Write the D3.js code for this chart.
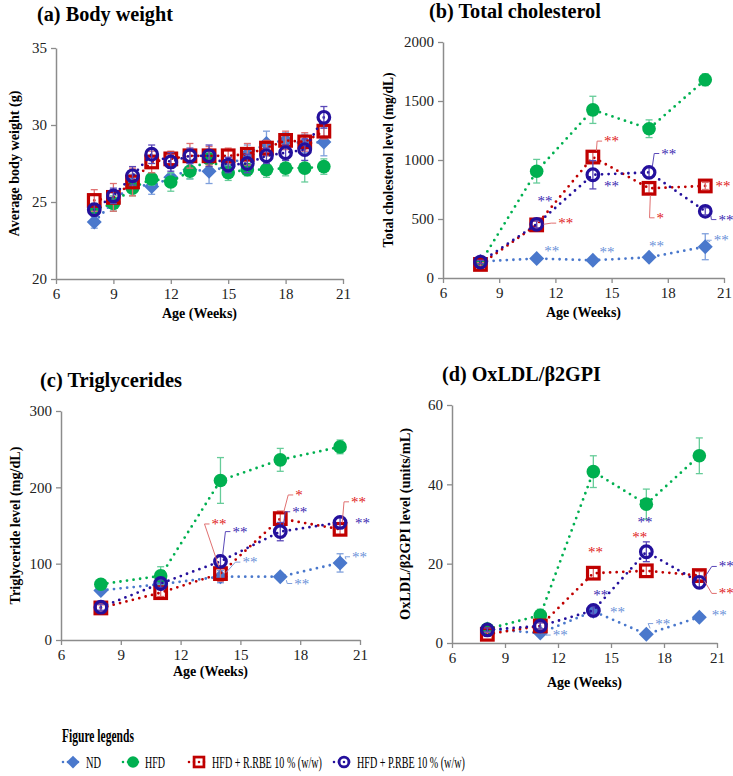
<!DOCTYPE html>
<html><head><meta charset="utf-8">
<script src="https://cdn.jsdelivr.net/npm/d3@7"></script>
<style>
html,body{margin:0;padding:0;background:#fff;}
svg, svg text{font-family:'Liberation Serif','Times New Roman',Times,serif !important;}
</style></head>
<body>
<svg id="chart" width="733" height="776"></svg>
<script>
// ---------- DATA ----------
const seriesNames = ["ND", "HFD", "HFD + R.RBE 10 % (w/w)", "HFD + P.RBE 10 % (w/w)"];
const seriesColors = ["#4A78CC", "#00B050", "#C00000", "#24109C"];
const errColors = ["#7FA0DC", "#66CC99", "#E07070", "#5A48B8"];
const starColors = ["#6A90D8", "#00B050", "#E02020", "#3A28B0"];

const xTicks = [6, 9, 12, 15, 18, 21];

// (a) Body weight
const weeksBW = [8, 9, 10, 11, 12, 13, 14, 15, 16, 17, 18, 19, 20];
const bwND   = [23.7, 25.0, 26.2, 26.0, 26.6, 27.1, 27.0, 27.3, 28.1, 28.8, 29.0, 28.8, 28.9];
const bwHFD  = [24.5, 24.9, 25.9, 26.5, 26.3, 27.0, 27.8, 26.9, 27.1, 27.1, 27.2, 27.2, 27.3];
const bwR    = [25.1, 25.3, 26.3, 27.6, 27.8, 28.0, 28.0, 28.0, 28.1, 28.5, 29.0, 28.9, 29.6];
const bwP    = [24.5, 25.4, 26.7, 28.1, 27.6, 28.0, 28.0, 27.4, 27.5, 28.0, 28.2, 28.4, 30.5];
const bwNDe  = [0.4, 0.6, 0.6, 0.5, 0.6, 0.6, 0.8, 0.6, 0.6, 0.8, 0.5, 0.6, 0.9];
const bwHFDe = [0.4, 0.5, 0.5, 0.4, 0.6, 0.5, 0.5, 0.5, 0.4, 0.5, 0.5, 0.9, 0.5];
const bwRe   = [0.7, 0.9, 0.9, 0.7, 0.5, 0.8, 0.6, 0.5, 0.7, 0.5, 0.6, 0.6, 0.5];
const bwPe   = [0.4, 0.5, 0.6, 0.6, 0.6, 0.5, 0.7, 0.5, 0.6, 0.5, 0.5, 0.7, 0.7];
const bwTicks = [20, 25, 30, 35];

// (b)(c)(d) sampled weeks
const weeksLab = [8, 11, 14, 17, 20];

// (b) Total cholesterol
const tcND   = [140, 165, 150, 175, 265];
const tcHFD  = [130, 905, 1425, 1265, 1680];
const tcR    = [115, 450, 1025, 760, 780];
const tcP    = [135, 455, 875, 895, 565];
const tcNDe  = [15, 20, 20, 20, 110];
const tcHFDe = [15, 100, 115, 75, 50];
const tcRe   = [15, 30, 40, 40, 30];
const tcPe   = [15, 30, 120, 40, 30];
const tcTicks = [0, 500, 1000, 1500, 2000];

// (c) Triglycerides
const tgND   = [65, 73, 83, 83, 101];
const tgHFD  = [73, 84, 209, 236, 253];
const tgR    = [42, 62, 87, 159, 145];
const tgP    = [43, 74, 103, 142, 154];
const tgNDe  = [4, 5, 8, 4, 12];
const tgHFDe = [4, 12, 30, 15, 9];
const tgRe   = [4, 5, 10, 10, 8];
const tgPe   = [4, 5, 8, 12, 6];
const tgTicks = [0, 100, 200, 300];

// (d) OxLDL/β2GPI
const oxND   = [3.5, 2.5, 8.0, 2.2, 6.5];
const oxHFD  = [3.5, 7.0, 43.2, 35.0, 47.2];
const oxR    = [2.2, 4.3, 17.6, 18.2, 17.0];
const oxP    = [3.3, 4.3, 8.2, 23.0, 15.3];
const oxNDe  = [0.8, 0.8, 0.8, 0.6, 0.8];
const oxHFDe = [0.8, 1.5, 4.0, 3.8, 4.5];
const oxRe   = [0.5, 0.8, 1.5, 1.5, 1.0];
const oxPe   = [0.5, 0.8, 1.0, 2.5, 1.5];
const oxTicks = [0, 20, 40, 60];

// significance labels: [series, week, label x (weeks), label y (value), text, leader]
const annTC = [
  [0, 11, 11.4, 225, "**", false], [0, 14, 14.35, 220, "**", false],
  [0, 17, 17.0, 275, "**", false], [0, 20, 20.45, 320, "**", true],
  [2, 11, 12.15, 465, "**", true], [2, 14, 14.6, 1160, "**", true],
  [2, 17, 17.4, 510, "*", true],  [2, 20, 20.55, 780, "**", false],
  [3, 11, 11.05, 655, "**", false], [3, 14, 14.6, 780, "**", false],
  [3, 17, 17.65, 1055, "**", true], [3, 20, 20.7, 495, "**", true]
];
const annTG = [
  [0, 14, 15.1, 102, "**", true], [0, 17, 17.7, 74, "**", true], [0, 20, 20.6, 109, "**", true],
  [2, 14, 13.55, 152, "**", true], [2, 17, 17.75, 190, "*", true], [2, 20, 20.55, 181, "**", true],
  [3, 14, 14.6, 142, "**", true], [3, 17, 17.6, 168, "**", true], [3, 20, 20.75, 153, "**", false]
];
const annOX = [
  [0, 11, 11.7, 2.0, "**", true], [0, 14, 14.95, 7.7, "**", false],
  [0, 17, 17.5, 4.9, "**", true], [0, 20, 20.7, 7.1, "**", false],
  [2, 14, 13.7, 22.9, "**", false], [2, 17, 16.2, 26.6, "**", false], [2, 20, 21.1, 12.5, "**", true],
  [3, 14, 14.0, 12.0, "**", false], [3, 17, 16.5, 30.5, "**", false], [3, 20, 21.1, 19.3, "**", true]
];

// ---------- LAYOUT ----------
const FONT = "'Liberation Serif','Times New Roman',Times,serif";
const panels = [
  {title: "(a) Body weight", tx: 37, ty: 21, tl: 136, ylab: "Average body weight (g)", ylx: 14, yll: 146,
   xr: [56, 343], yr: [279, 48], yd: [20, 35], yt: bwTicks, xlabY: 318,
   weeks: weeksBW, vals: [bwND, bwHFD, bwR, bwP], errs: [bwNDe, bwHFDe, bwRe, bwPe], ann: []},
  {title: "(b) Total cholesterol", tx: 429, ty: 18, tl: 172, ylab: "Total cholesterol level (mg/dL)", ylx: 388, yll: 175,
   xr: [443, 724], yr: [278, 42], yd: [0, 2000], yt: tcTicks, xlabY: 317,
   weeks: weeksLab, vals: [tcND, tcHFD, tcR, tcP], errs: [tcNDe, tcHFDe, tcRe, tcPe], ann: annTC},
  {title: "(c) Triglycerides", tx: 40, ty: 387, tl: 142, ylab: "Triglyceride level (mg/dL)", ylx: 15, yll: 158,
   xr: [61, 360], yr: [640, 411], yd: [0, 300], yt: tgTicks, xlabY: 676,
   weeks: weeksLab, vals: [tgND, tgHFD, tgR, tgP], errs: [tgNDe, tgHFDe, tgRe, tgPe], ann: annTG},
  {title: "(d) OxLDL/β2GPI", tx: 442, ty: 381, tl: 159, ylab: "OxLDL/β2GPI level (units/mL)", ylx: 405, yll: 192,
   xr: [452, 717], yr: [643, 405], yd: [0, 60], yt: oxTicks, xlabY: 687,
   weeks: weeksLab, vals: [oxND, oxHFD, oxR, oxP], errs: [oxNDe, oxHFDe, oxRe, oxPe], ann: annOX}
];

const svg = d3.select("#chart").attr("font-family", FONT);
const axisCol = "#8C8C8C";

// text squeezed horizontally to a given width (via transform, so its box is real)
function fitText(g, str, x, y, w, size, bold, fill) {
  const t = g.append("text").attr("x", 0).attr("y", 0).attr("font-size", size)
    .attr("font-family", FONT).attr("font-weight", bold ? "bold" : "normal")
    .attr("fill", fill || "#000").text(str);
  const nat = t.node().getComputedTextLength() || w;
  t.attr("transform", `translate(${x},${y}) scale(${w / nat},1)`);
  return t;
}

function drawMarker(g, s, x, y, scale) {
  const k = scale || 1;
  const c = seriesColors[s];
  if (s === 0) {
    const r = 7.5 * k;
    g.append("path").attr("d", `M${x},${y - r}L${x + r},${y}L${x},${y + r}L${x - r},${y}Z`).attr("fill", c);
  } else if (s === 1) {
    g.append("circle").attr("cx", x).attr("cy", y).attr("r", 6.8 * k).attr("fill", c);
  } else if (s === 2) {
    const h = 5.8 * k;
    g.append("rect").attr("x", x - h).attr("y", y - h).attr("width", 2 * h).attr("height", 2 * h)
      .attr("fill", "none").attr("stroke", c).attr("stroke-width", 3.2 * k);
  } else {
    g.append("circle").attr("cx", x).attr("cy", y).attr("r", 5.8 * k)
      .attr("fill", "none").attr("stroke", c).attr("stroke-width", 3.2 * k);
  }
}

panels.forEach(p => {
  const x = d3.scaleLinear().domain([6, 21]).range(p.xr);
  const y = d3.scaleLinear().domain(p.yd).range(p.yr);
  const g = svg.append("g");

  fitText(g, p.title, p.tx, p.ty, p.tl, 20, true, "#000");

  const xa = g.append("g").attr("transform", `translate(0,${p.yr[0]})`)
    .call(d3.axisBottom(x).tickValues(xTicks).tickFormat(d3.format("d")).tickSize(5).tickSizeOuter(0).tickPadding(4));
  const ya = g.append("g").attr("transform", `translate(${p.xr[0]},0)`)
    .call(d3.axisLeft(y).tickValues(p.yt).tickFormat(d3.format("d")).tickSize(5).tickSizeOuter(0).tickPadding(4));
  [xa, ya].forEach(a => {
    a.attr("font-family", FONT);
    a.select(".domain").attr("stroke", axisCol).attr("stroke-width", 1.5);
    a.selectAll(".tick line").attr("stroke", axisCol).attr("stroke-width", 1.3);
    a.selectAll(".tick text").attr("font-size", 15).attr("fill", "#222").attr("font-family", FONT);
  });

  g.append("text").attr("x", (p.xr[0] + p.xr[1]) / 2).attr("y", p.xlabY).attr("text-anchor", "middle")
    .attr("font-family", FONT).attr("font-size", 14).attr("font-weight", "bold").text("Age (Weeks)");
  const yc = (p.yr[0] + p.yr[1]) / 2;
  g.append("text").attr("transform", `translate(${p.ylx},${yc}) rotate(-90)`)
    .attr("text-anchor", "middle").attr("dominant-baseline", "central")
    .attr("font-family", FONT).attr("font-size", 14).attr("font-weight", "bold")
    .attr("textLength", p.yll).attr("lengthAdjust", "spacingAndGlyphs").text(p.ylab);

  const line = d3.line().x(d => x(d[0])).y(d => y(d[1]));
  p.vals.forEach((vals, s) => {
    const pts = p.weeks.map((w, i) => [w, vals[i], p.errs[s][i]]);
    const sg = g.append("g");
    sg.append("path").datum(pts).attr("d", line).attr("fill", "none")
      .attr("stroke", seriesColors[s]).attr("stroke-width", 2.8)
      .attr("stroke-linecap", "round").attr("stroke-dasharray", "0 6.6");
    pts.forEach(d => {
      const cx = x(d[0]);
      const y1 = y(d[1] - d[2]), y2 = y(d[1] + d[2]);
      sg.append("line").attr("x1", cx).attr("x2", cx).attr("y1", y1).attr("y2", y2)
        .attr("stroke", errColors[s]).attr("stroke-width", 1.3);
      [y1, y2].forEach(yy => sg.append("line").attr("x1", cx - 3.5).attr("x2", cx + 3.5)
        .attr("y1", yy).attr("y2", yy).attr("stroke", errColors[s]).attr("stroke-width", 1.3));
    });
    pts.forEach(d => drawMarker(sg, s, x(d[0]), y(d[1])));
  });

  p.ann.forEach(a => {
    const [s, w, lx, ly, txt, leader] = a;
    const idx = p.weeks.indexOf(w);
    const mx = x(w), my = y(p.vals[s][idx]);
    const tx = x(lx), ty = y(ly);
    if (leader) {
      const ex = tx - 2;
      const dx = ex - mx, dy = ty - my;
      const len = Math.hypot(dx, dy) || 1;
      const sx = mx + dx / len * 7, sy = my + dy / len * 7;
      g.append("path").attr("d", `M${sx},${sy}L${ex - 5},${ty}L${ex},${ty}`)
        .attr("fill", "none").attr("stroke", errColors[s]).attr("stroke-width", 1);
    }
    g.append("text").attr("x", tx).attr("y", ty).attr("dominant-baseline", "central")
      .attr("font-family", FONT).attr("font-size", 15).attr("fill", starColors[s]).text(txt);
  });
});

// ---------- LEGEND ----------
const lg = svg.append("g");
fitText(lg, "Figure legends", 62, 742, 72, 18, true, "#000");
const legX = [63, 123, 189, 334];
const legTextX = [86, 145, 212, 357];
const legTextW = [15, 20, 110, 108];
const legY = 762;
seriesNames.forEach((name, s) => {
  const x0 = legX[s];
  lg.append("line").attr("x1", x0).attr("x2", x0 + 20).attr("y1", legY).attr("y2", legY)
    .attr("stroke", seriesColors[s]).attr("stroke-width", 2.6).attr("stroke-linecap", "round")
    .attr("stroke-dasharray", "0 5");
  drawMarker(lg, s, x0 + 10, legY, 0.85);
  fitText(lg, name, legTextX[s], legY + 6, legTextW[s], 17, false, "#000");
});
</script>
</body></html>
